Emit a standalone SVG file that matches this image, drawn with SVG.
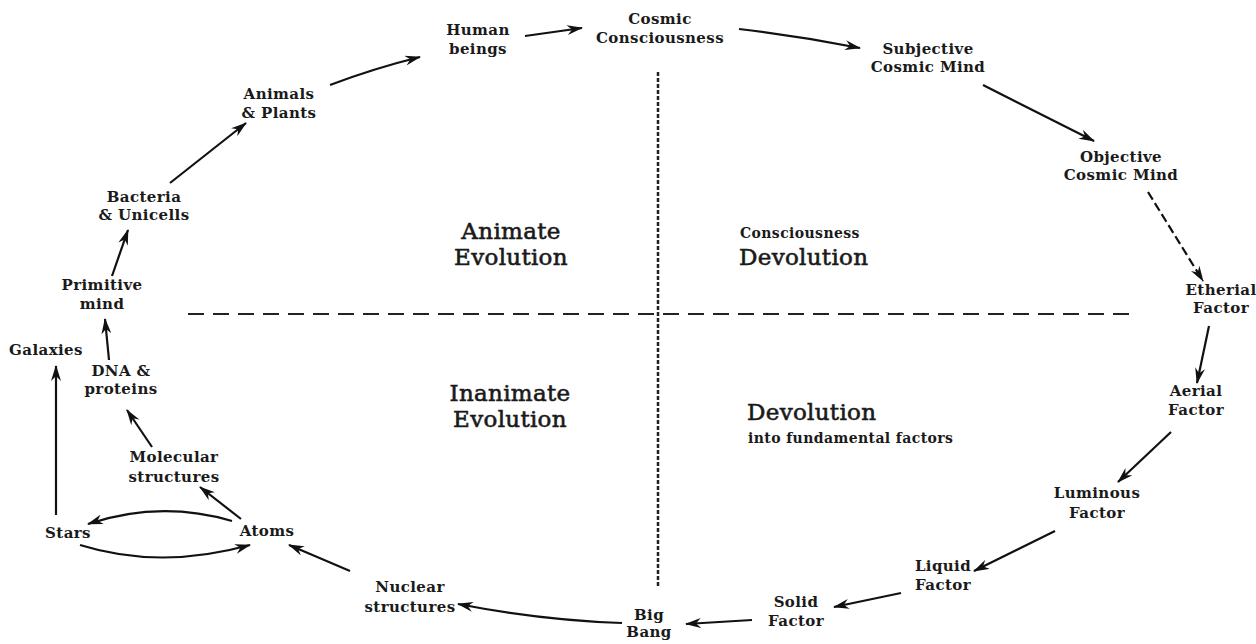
<svg xmlns="http://www.w3.org/2000/svg" width="1256" height="644" viewBox="0 0 1256 644">
<defs>
<style>
.lbl{font-family:"DejaVu Serif","Liberation Serif",serif;font-size:15px;font-weight:bold;letter-spacing:0.4px;fill:#1a1a1a;text-anchor:middle}
.big{font-family:"DejaVu Serif","Liberation Serif",serif;font-size:23px;font-weight:normal;fill:#1a1a1a;stroke:#1a1a1a;stroke-width:0.6;letter-spacing:0.3px;text-anchor:middle}
.sm{font-family:"DejaVu Serif","Liberation Serif",serif;font-size:14px;font-weight:bold;letter-spacing:0.4px;fill:#1a1a1a}
.arr{fill:none;stroke:#111;stroke-width:2.2;marker-end:url(#ah)}
</style>
<marker id="ah" viewBox="0 0 16 10" refX="15" refY="5" markerWidth="16" markerHeight="10" markerUnits="userSpaceOnUse" orient="auto">
<path d="M0,0 L16,5 L0,10 L5,5 z" fill="#111"/>
</marker>
</defs>
<rect width="1256" height="644" fill="#fff"/>
<g id="axes">
<line x1="188" y1="314" x2="1132" y2="314" stroke="#222" stroke-width="2" stroke-dasharray="16,9"/>
<line x1="658" y1="72" x2="658" y2="586" stroke="#222" stroke-width="2.5" stroke-dasharray="4,2"/>
</g>
<g id="quadrants">
<g id="q-animate"><text class="big" x="511" y="239">Animate</text><text class="big" x="511" y="265">Evolution</text></g>
<g id="q-consciousness"><text class="sm" x="740" y="238">Consciousness</text><text class="big" x="739" y="265" style="text-anchor:start">Devolution</text></g>
<g id="q-inanimate"><text class="big" x="510" y="401">Inanimate</text><text class="big" x="510" y="427">Evolution</text></g>
<g id="q-devolution"><text class="big" x="747" y="420" style="text-anchor:start">Devolution</text><text class="sm" x="748" y="443">into fundamental factors</text></g>
</g>
<g id="n-human"><text class="lbl" x="478" y="35">Human</text><text class="lbl" x="478" y="54">beings</text></g>
<g id="n-cosmic"><text class="lbl" x="660" y="24">Cosmic</text><text class="lbl" x="660" y="43">Consciousness</text></g>
<g id="n-subjective"><text class="lbl" x="928" y="54">Subjective</text><text class="lbl" x="928" y="72">Cosmic Mind</text></g>
<g id="n-objective"><text class="lbl" x="1121" y="162">Objective</text><text class="lbl" x="1121" y="180">Cosmic Mind</text></g>
<g id="n-etherial"><text class="lbl" x="1221" y="295">Etherial</text><text class="lbl" x="1221" y="313">Factor</text></g>
<g id="n-aerial"><text class="lbl" x="1196" y="396">Aerial</text><text class="lbl" x="1196" y="415">Factor</text></g>
<g id="n-luminous"><text class="lbl" x="1097" y="498">Luminous</text><text class="lbl" x="1097" y="518">Factor</text></g>
<g id="n-liquid"><text class="lbl" x="943" y="571">Liquid</text><text class="lbl" x="943" y="590">Factor</text></g>
<g id="n-solid"><text class="lbl" x="796" y="607">Solid</text><text class="lbl" x="796" y="626">Factor</text></g>
<g id="n-bigbang"><text class="lbl" x="649" y="620">Big</text><text class="lbl" x="649" y="637">Bang</text></g>
<g id="n-nuclear"><text class="lbl" x="410" y="592">Nuclear</text><text class="lbl" x="410" y="612">structures</text></g>
<g id="n-atoms"><text class="lbl" x="267" y="536">Atoms</text></g>
<g id="n-stars"><text class="lbl" x="68" y="538">Stars</text></g>
<g id="n-molecular"><text class="lbl" x="174" y="462">Molecular</text><text class="lbl" x="174" y="482">structures</text></g>
<g id="n-dna"><text class="lbl" x="121" y="376">DNA &amp;</text><text class="lbl" x="121" y="394">proteins</text></g>
<g id="n-galaxies"><text class="lbl" x="46" y="355">Galaxies</text></g>
<g id="n-primitive"><text class="lbl" x="102" y="290">Primitive</text><text class="lbl" x="102" y="309">mind</text></g>
<g id="n-bacteria"><text class="lbl" x="144" y="202">Bacteria</text><text class="lbl" x="144" y="220">&amp; Unicells</text></g>
<g id="n-animals"><text class="lbl" x="279" y="99">Animals</text><text class="lbl" x="279" y="118">&amp; Plants</text></g>
<g id="connectors">
<path class="arr" d="M330,85 Q375,68 420,57"/>
<path class="arr" d="M525,36 L582,28"/>
<path class="arr" d="M739,29 Q800,36 860,48"/>
<path class="arr" d="M983,85 L1094,141"/>
<path class="arr" d="M1148,192 L1203,281" stroke-dasharray="9,4"/>
<path class="arr" d="M1209,326 L1197,383"/>
<path class="arr" d="M1171,432 L1118,482"/>
<path class="arr" d="M1055,531 L974,571"/>
<path class="arr" d="M901,593 L834,607"/>
<path class="arr" d="M752,620 L686,624"/>
<path class="arr" d="M622,623 Q540,620 458,604"/>
<path class="arr" d="M350,571 L289,545"/>
<path class="arr" d="M241,519 L200,487"/>
<path class="arr" d="M152,447 L127,410"/>
<path class="arr" d="M109,360 L105,319"/>
<path class="arr" d="M112,276 L128,230"/>
<path class="arr" d="M170,183 L246,123"/>
<path class="arr" d="M56,515 L56,366"/>
<path class="arr" d="M232,521 Q160,500 88,524"/>
<path class="arr" d="M80,545 Q160,570 250,545"/>
</g>
</svg>
